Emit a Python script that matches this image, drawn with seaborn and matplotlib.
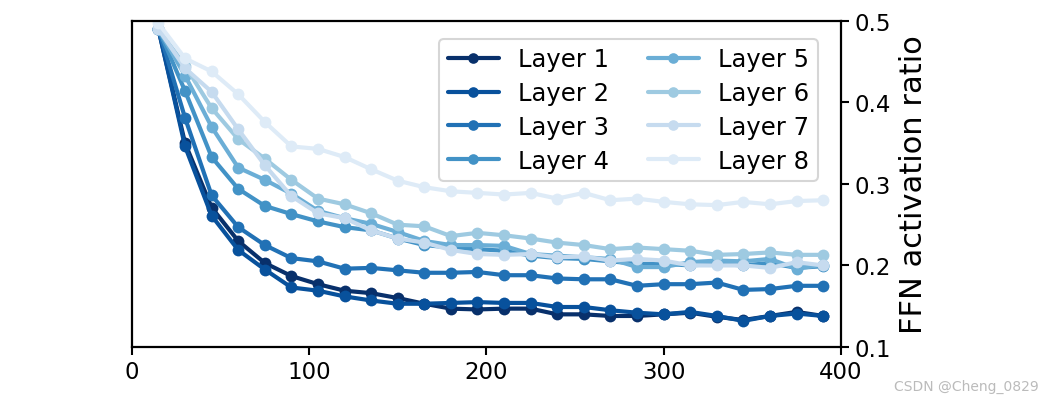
import pandas as pd
import matplotlib.pyplot as plt
import seaborn as sns

# ── data ──────────────────────────────────────────────────────────────
steps = [15, 30, 45, 60, 75, 90, 105, 120, 135, 150, 165, 180, 195,
         210, 225, 240, 255, 270, 285, 300, 315, 330, 345, 360, 375, 390]

layer1 = [0.490, 0.350, 0.271, 0.230, 0.203, 0.187, 0.177, 0.169, 0.166,
          0.160, 0.153, 0.147, 0.146, 0.147, 0.147, 0.140, 0.140, 0.138,
          0.138, 0.140, 0.142, 0.137, 0.133, 0.138, 0.143, 0.138]
layer2 = [0.490, 0.346, 0.261, 0.219, 0.195, 0.173, 0.169, 0.162, 0.157,
          0.153, 0.153, 0.154, 0.155, 0.154, 0.154, 0.149, 0.149, 0.145,
          0.142, 0.140, 0.143, 0.138, 0.132, 0.138, 0.141, 0.138]
layer3 = [0.490, 0.381, 0.286, 0.247, 0.225, 0.209, 0.205, 0.196, 0.197,
          0.194, 0.191, 0.191, 0.192, 0.188, 0.188, 0.184, 0.183, 0.183,
          0.175, 0.177, 0.177, 0.179, 0.170, 0.171, 0.175, 0.175]
layer4 = [0.490, 0.414, 0.333, 0.294, 0.273, 0.263, 0.254, 0.247, 0.243,
          0.233, 0.225, 0.222, 0.220, 0.218, 0.212, 0.209, 0.208, 0.205,
          0.202, 0.202, 0.200, 0.202, 0.200, 0.203, 0.197, 0.199]
layer5 = [0.490, 0.433, 0.370, 0.320, 0.305, 0.288, 0.267, 0.258, 0.251,
          0.241, 0.230, 0.225, 0.225, 0.224, 0.214, 0.212, 0.210, 0.208,
          0.198, 0.198, 0.204, 0.206, 0.205, 0.208, 0.196, 0.201]
layer6 = [0.490, 0.445, 0.393, 0.355, 0.331, 0.305, 0.282, 0.275, 0.264,
          0.250, 0.248, 0.236, 0.240, 0.237, 0.233, 0.228, 0.225, 0.220,
          0.222, 0.220, 0.218, 0.213, 0.214, 0.216, 0.213, 0.213]
layer7 = [0.490, 0.442, 0.413, 0.367, 0.323, 0.285, 0.264, 0.258, 0.243,
          0.233, 0.228, 0.219, 0.214, 0.213, 0.214, 0.210, 0.211, 0.206,
          0.208, 0.206, 0.200, 0.200, 0.200, 0.197, 0.204, 0.200]
layer8 = [0.497, 0.454, 0.438, 0.410, 0.376, 0.346, 0.343, 0.333, 0.318,
          0.304, 0.296, 0.291, 0.289, 0.287, 0.289, 0.282, 0.289, 0.280,
          0.282, 0.278, 0.275, 0.274, 0.278, 0.275, 0.279, 0.280]

layer_names = ['Layer 1', 'Layer 2', 'Layer 3', 'Layer 4',
               'Layer 5', 'Layer 6', 'Layer 7', 'Layer 8']
layer_values = [layer1, layer2, layer3, layer4, layer5, layer6, layer7, layer8]

# Blues, dark -> light
colors = ['#08306b', '#08519c', '#2171b5', '#4292c6',
          '#6baed6', '#9ecae1', '#c6dbef', '#deebf7']

rows = []
for name, vals in zip(layer_names, layer_values):
    for s, v in zip(steps, vals):
        rows.append({'step': s, 'ratio': v, 'layer': name})
df = pd.DataFrame(rows)

# ── plot ──────────────────────────────────────────────────────────────
sns.set_style('ticks')
plt.rcParams['font.family'] = ['DejaVu Sans']
plt.rcParams['text.color'] = 'black'
plt.rcParams['axes.labelcolor'] = 'black'
plt.rcParams['xtick.color'] = 'black'
plt.rcParams['ytick.color'] = 'black'

fig = plt.figure(figsize=(10.55, 4.06), dpi=100)
ax = fig.add_axes([0.125, 0.143, 0.672, 0.803])

sns.lineplot(data=df, x='step', y='ratio', hue='layer', hue_order=layer_names,
             palette=colors, marker='o', markersize=8.5, markeredgewidth=0,
             linewidth=3, ax=ax)

ax.set_xlim(0, 400)
ax.set_ylim(0.1, 0.5)
ax.set_xticks([0, 100, 200, 300, 400])
ax.set_yticks([0.1, 0.2, 0.3, 0.4, 0.5])
ax.yaxis.tick_right()
ax.yaxis.set_label_position('right')
ax.set_xlabel('')
ax.set_ylabel('FFN activation ratio', fontsize=22, labelpad=6)
ax.tick_params(labelsize=16.5, width=1.5, length=6, colors='black')
for sp in ax.spines.values():
    sp.set_visible(True)
    sp.set_linewidth(1.6)
    sp.set_color('black')

handles, labels = ax.get_legend_handles_labels()
leg = ax.legend(handles, labels, ncol=2, loc='upper right', fontsize=17.5,
                frameon=True, fancybox=True, markerscale=0.9,
                handlelength=2.1, columnspacing=1.6, labelspacing=0.4,
                borderpad=0.35, bbox_to_anchor=(0.985, 0.982))
leg.get_frame().set_edgecolor('#cccccc')
leg.get_frame().set_linewidth(1.5)

fig.text(0.985, 0.03, 'CSDN @Cheng_0829', ha='right', va='bottom',
         fontsize=10, color='#bbbbbb')

plt.savefig('out.png', dpi=100)
plt.close()
